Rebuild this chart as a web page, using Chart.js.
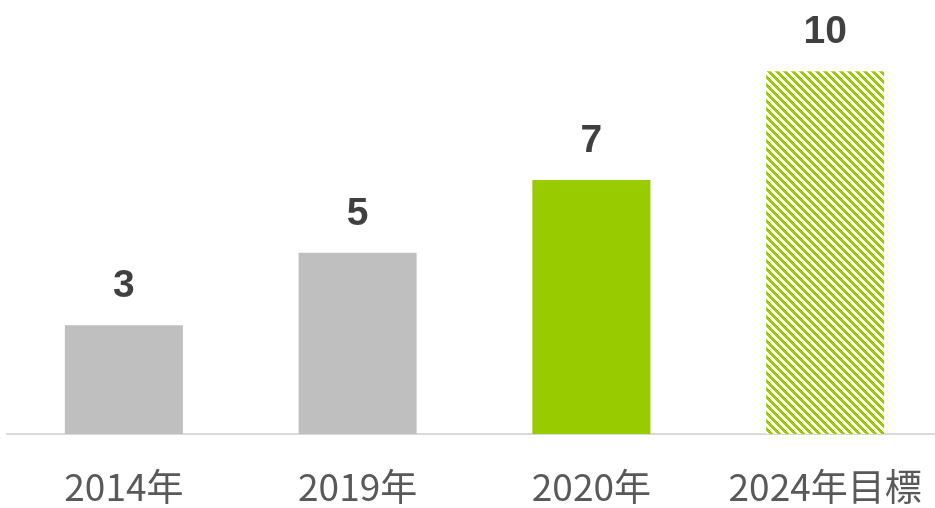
<!DOCTYPE html>
<html>
<head>
<meta charset="utf-8">
<script src="https://cdn.jsdelivr.net/npm/chart.js@4.4.1/dist/chart.umd.min.js"></script>
<style>
html,body{margin:0;padding:0;background:#fff;overflow:hidden;}
#wrap{position:absolute;left:0;top:0;width:942px;height:508px;}
</style>
</head>
<body>
<div id="wrap"><canvas id="c" width="942" height="508"></canvas></div>
<script>
const categories = ['2014年', '2019年', '2020年', '2024年目標'];
const values = [3, 5, 7, 10];
const valueLabels = ['3', '5', '7', '10'];

function hatch() {
  const s = 8;
  const cv = document.createElement('canvas');
  cv.width = s; cv.height = s;
  const cx = cv.getContext('2d');
  const img = cx.createImageData(s, s);
  for (let y = 0; y < s; y++) {
    for (let x = 0; x < s; x++) {
      const i = (y * s + x) * 4;
      const g = (((x - y) % s) + s) % s < 4;
      img.data[i] = g ? 0x99 : 255;
      img.data[i + 1] = g ? 0xcc : 255;
      img.data[i + 2] = g ? 0x00 : 255;
      img.data[i + 3] = 255;
    }
  }
  cx.putImageData(img, 0, 0);
  return document.getElementById('c').getContext('2d').createPattern(cv, 'repeat');
}

const colors = ['#bfbfbf', '#bfbfbf', '#99cc00', hatch()];

const valueLabelPlugin = {
  id: 'valueLabels',
  afterDatasetsDraw(chart) {
    const ctx = chart.ctx;
    const meta = chart.getDatasetMeta(0);
    ctx.save();
    ctx.font = 'bold 39px "Liberation Sans", Arial, sans-serif';
    ctx.fillStyle = '#404040';
    ctx.textAlign = 'center';
    ctx.textBaseline = 'alphabetic';
    meta.data.forEach((bar, i) => {
      ctx.fillText(valueLabels[i], bar.x, bar.y - 28);
    });
    ctx.restore();
  }
};

new Chart(document.getElementById('c'), {
  type: 'bar',
  data: {
    labels: categories,
    datasets: [{
      data: values,
      backgroundColor: colors,
      borderWidth: 0,
      categoryPercentage: 1,
      barPercentage: 0.505
    }]
  },
  options: {
    responsive: false,
    animation: false,
    events: [],
    layout: { padding: { left: 7, right: 0, top: 35, bottom: 0 } },
    plugins: { legend: { display: false }, tooltip: { enabled: false } },
    scales: {
      x: {
        grid: { display: false, drawTicks: false },
        border: { display: true, color: '#d9d9d9', width: 2 },
        ticks: {
          color: '#595959',
          font: { family: '"Noto Sans CJK JP", sans-serif', size: 37, lineHeight: 1.0 },
          padding: 34,
          maxRotation: 0,
          autoSkip: false
        },
        afterFit(scale) {
          scale.height = 74;
          scale.paddingLeft = 0;
          scale.paddingRight = 0;
        }
      },
      y: {
        display: false,
        min: 0,
        max: 11
      }
    }
  },
  plugins: [valueLabelPlugin]
});
</script>
</body>
</html>
